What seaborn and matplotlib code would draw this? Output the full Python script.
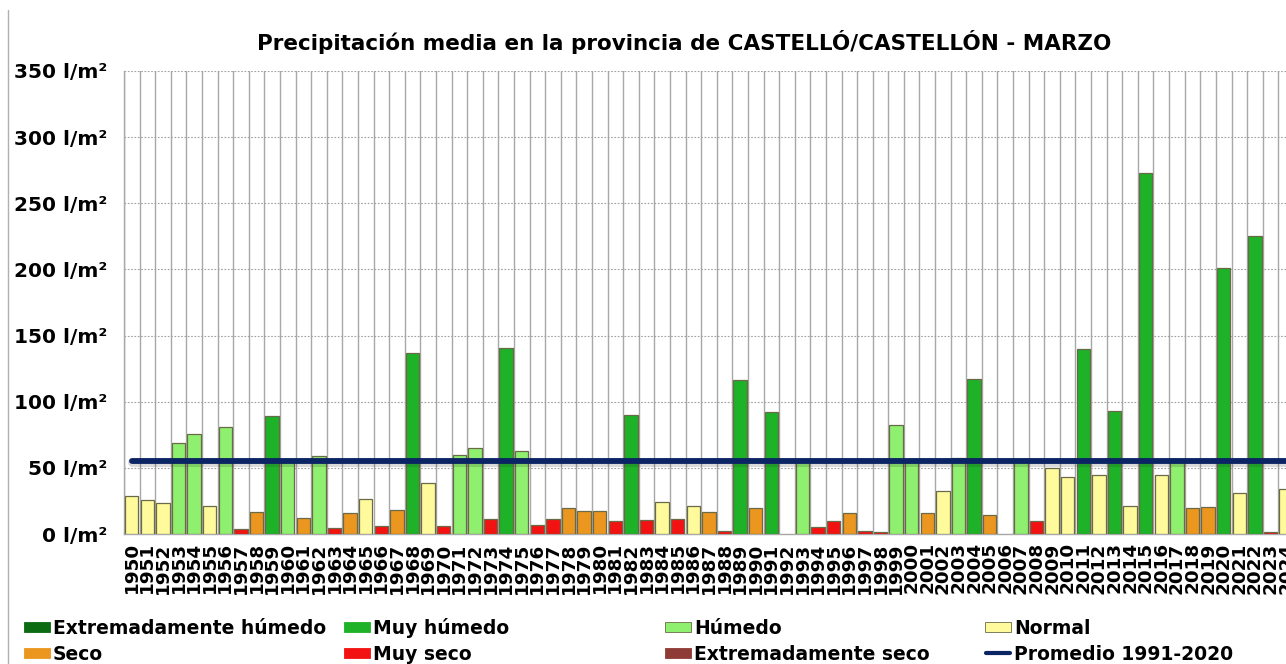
import numpy as np
import pandas as pd
import matplotlib.pyplot as plt
import matplotlib.patheffects as pe
from matplotlib.patches import Rectangle
from matplotlib.lines import Line2D
import seaborn as sns

# Datos (l/m2, marzo)
years = list(range(1950, 2025))
valores = [
    28.7, 25.6, 23.1, 69.1, 75.6, 21.1, 81.2, 3.8, 16.8, 89.2,
    56.0, 12.3, 59.3, 4.5, 15.8, 26.4, 5.8, 18.1, 136.5, 38.2,
    6.3, 59.8, 64.8, 11.0, 140.3, 62.6, 6.8, 11.0, 19.6, 17.6,
    17.1, 9.8, 90.2, 10.3, 24.1, 11.0, 21.1, 16.6, 2.0, 116.4,
    19.6, 92.2, np.nan, 56.0, 5.0, 9.8, 15.8, 2.5, 1.7, 82.2,
    56.0, 15.8, 32.7, 57.5, 117.1, 14.1, np.nan, 56.0, 9.8, 50.2,
    43.0, 140.0, 44.7, 93.2, 21.3, 272.7, 44.5, 56.0, 19.6, 20.1,
    201.1, 30.9, 225.5, 1.7, 33.9,
]
clases = [
    "N", "N", "N", "H", "H", "N", "H", "MS", "S", "MH",
    "H", "S", "H", "MS", "S", "N", "MS", "S", "MH", "N",
    "MS", "H", "H", "MS", "MH", "H", "MS", "MS", "S", "S",
    "S", "MS", "MH", "MS", "N", "MS", "N", "S", "MS", "MH",
    "S", "MH", "MS", "H", "MS", "MS", "S", "MS", "MS", "H",
    "H", "S", "N", "H", "MH", "S", "MS", "H", "MS", "N",
    "N", "MH", "N", "MH", "N", "MH", "N", "H", "S", "S",
    "MH", "N", "MH", "MS", "N",
]
promedio = 55.4

nombres = {
    "EH": "Extremadamente húmedo", "MH": "Muy húmedo", "H": "Húmedo",
    "N": "Normal", "S": "Seco", "MS": "Muy seco", "ES": "Extremadamente seco",
}
colores = {
    "EH": "#0b6b12", "MH": "#1db227", "H": "#8ff06f", "N": "#fffa9c",
    "S": "#eb961e", "MS": "#f21212", "ES": "#8e3b36",
}
color_prom = "#0b2463"

df = pd.DataFrame({"year": years, "valor": valores, "clase": clases})

sns.set_style("white")
plt.rcParams["font.family"] = ["DejaVu Sans"]
plt.rcParams["text.color"] = "black"
plt.rcParams["xtick.labelcolor"] = "black"
plt.rcParams["ytick.labelcolor"] = "black"

W, H = 1286, 664
fig = plt.figure(figsize=(W / 100, H / 100), dpi=100)
ax = fig.add_axes([123.9 / W, 1 - 534 / H, 1170 / W, 463 / H])
ax.patch.set_alpha(0)

sns.barplot(
    data=df, x="year", y="valor", hue="clase", order=years,
    hue_order=list(colores.keys()), palette=colores, dodge=False,
    saturation=1, width=0.85, edgecolor="#6a6a48", linewidth=0.9,
    errorbar=None, legend=False, ax=ax, zorder=3,
)

# linea del promedio 1991-2020
ax.plot(
    [0, len(years) - 1], [promedio, promedio], color=color_prom, lw=4.2,
    solid_capstyle="round", zorder=5,
    path_effects=[pe.SimpleLineShadow(offset=(0, -1), shadow_color="#333333",
                                      alpha=0.18, linewidth=6.5), pe.Normal()],
)

ax.set_xlim(-0.5, len(years) - 0.5)
ax.set_ylim(0, 350)
ax.set_yticks(range(0, 351, 50))
ax.set_yticklabels([f"{v} l/m²" for v in range(0, 351, 50)],
                   fontsize=14.5, fontweight="bold")
ax.set_xticks(range(len(years)))
ax.set_xticklabels([str(y) for y in years], rotation=90,
                   fontsize=13.2, fontweight="bold")
ax.set_xticks(np.arange(-0.5, len(years), 1), minor=True)
ax.tick_params(axis="x", which="major", length=0, pad=6)
ax.tick_params(axis="x", which="minor", length=5, color="#a8a8a8")
ax.tick_params(axis="y", length=5, color="#a8a8a8", pad=7)
ax.set_xlabel("")
ax.set_ylabel("")

ax.grid(axis="x", which="minor", color="#a8a8a8", lw=1, zorder=0)
ax.grid(axis="y", which="major", color="#a0a0a0", lw=0.8,
        linestyle=(0, (1.5, 1.5)), zorder=0)
ax.set_axisbelow(True)
for lado in ["top", "right"]:
    ax.spines[lado].set_visible(False)
for lado in ["left", "bottom"]:
    ax.spines[lado].set_color("#a8a8a8")
    ax.spines[lado].set_linewidth(1)

fig.text(684 / W, 1 - 42 / H,
         "Precipitación media en la provincia de CASTELLÓ/CASTELLÓN - MARZO",
         ha="center", va="center", fontsize=15.5, fontweight="bold")

# borde izquierdo del marco
fig.add_artist(Line2D([8 / W, 8 / W], [0, 1 - 10 / H], color="#b0b0b0", lw=1))

# leyenda en cuatro columnas, dos filas
leyenda = [
    (24, 627, colores["EH"], "rect", nombres["EH"]),
    (24, 653, colores["S"], "rect", nombres["S"]),
    (344, 627, colores["MH"], "rect", nombres["MH"]),
    (344, 653, colores["MS"], "rect", nombres["MS"]),
    (665, 627, colores["H"], "rect", nombres["H"]),
    (665, 653, colores["ES"], "rect", nombres["ES"]),
    (985, 627, colores["N"], "rect", nombres["N"]),
    (985, 653, color_prom, "line", "Promedio 1991-2020"),
]
for x0, yc, col, tipo, texto in leyenda:
    if tipo == "rect":
        borde = "#6a6a48" if col in (colores["H"], colores["N"]) else col
        fig.add_artist(Rectangle((x0 / W, 1 - (yc + 5) / H), 26 / W, 10 / H,
                                 facecolor=col, edgecolor=borde, lw=0.6))
    else:
        fig.add_artist(Line2D([(x0 + 1) / W, (x0 + 25) / W],
                              [1 - yc / H, 1 - yc / H], color=col, lw=3,
                              solid_capstyle="round"))
    fig.text((x0 + 29) / W, 1 - (yc + 7) / H, texto, ha="left",
             va="baseline", fontsize=13.5, fontweight="bold")

fig.savefig("out.png", dpi=100)
